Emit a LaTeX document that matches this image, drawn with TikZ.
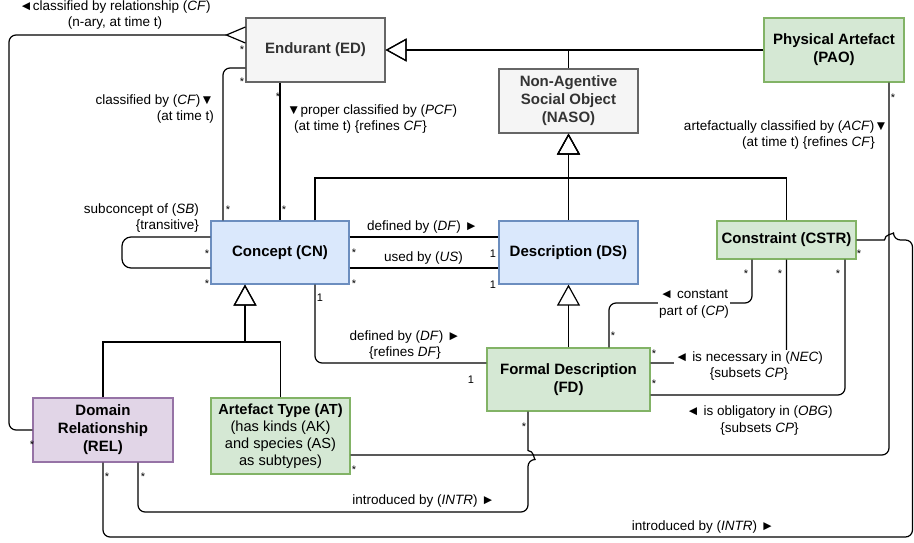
\documentclass[tikz,border=0pt]{standalone}
\usepackage{fontspec}
\setmainfont{Liberation Sans}
\usetikzlibrary{arrows.meta}
\definecolor{gfill}{HTML}{F5F5F5}
\definecolor{gline}{HTML}{666666}
\definecolor{gtext}{HTML}{333333}
\definecolor{bfill}{HTML}{DAE8FC}
\definecolor{bline}{HTML}{6C8EBF}
\definecolor{grfill}{HTML}{D5E8D4}
\definecolor{grline}{HTML}{82B366}
\definecolor{pfill}{HTML}{E1D5E7}
\definecolor{pline}{HTML}{9673A6}
\begin{document}
\begin{tikzpicture}[x=1pt,y=-1pt,
  box/.style={draw, line width=1.2pt, inner sep=2pt, align=center, font=\fontsize{15}{18}\selectfont\bfseries},
  graybox/.style={fill=gfill, draw=gline, text=gtext},
  bluebox/.style={fill=bfill, draw=bline},
  greenbox/.style={fill=grfill, draw=grline},
  purplebox/.style={fill=pfill, draw=pline},
  gen/.style={draw, line width=1.2pt, -{Triangle[open,length=21pt,width=23pt]}},
  assoc/.style={draw, line width=1.2pt, rounded corners=7pt},
  lbl/.style={font=\fontsize{13.5}{16.5}\selectfont, inner sep=1pt, align=center},
  mult/.style={font=\fontsize{11}{11}\selectfont, inner sep=0pt}]
\useasboundingbox (0,0) rectangle (914,542);

% nodes
\node[box,graybox,minimum width=139pt,minimum height=64pt] (ED) at (315.5,50) {Endurant (ED)};
\node[box,graybox,minimum width=139pt,minimum height=64pt] (NASO) at (568.5,101) {Non-Agentive\\Social Object\\(NASO)};
\node[box,greenbox,minimum width=140pt,minimum height=64pt] (PAO) at (834,50) {Physical Artefact\\(PAO)};
\node[box,bluebox,minimum width=138pt,minimum height=63pt] (CN) at (280,252.5) {Concept (CN)};
\node[box,bluebox,minimum width=139pt,minimum height=63pt] (DS) at (568.5,252.5) {Description (DS)};
\node[box,greenbox,minimum width=139pt,minimum height=38pt] (CSTR) at (786.5,240) {Constraint (CSTR)};
\node[box,greenbox,minimum width=163pt,minimum height=63pt] (FD) at (568.5,379.5) {Formal Description\\(FD)};
\node[box,purplebox,minimum width=140pt,minimum height=64pt] (REL) at (103,430) {Domain\\Relationship\\(REL)};
\node[box,greenbox,minimum width=139pt,minimum height=76pt,font=\fontsize{14.6}{17}\selectfont] (AT) at (280.5,436) {\textbf{Artefact Type (AT)}\\(has kinds (AK)\\and species (AS)\\as subtypes)};

% generalizations
\draw[gen] (PAO.west) -- (ED.east);
\draw[gen] (NASO.north) |- (ED.east);
\coordinate (g1) at (568.5,178);
\draw[gen] ([xshift=35pt]CN.north) |- (g1) -- (NASO.south);
\draw[gen] (DS.north) -- (NASO.south);
\draw[gen] (CSTR.north) |- (g1) -- (NASO.south);
\draw[gen] (FD.north) -- (DS.south);
\coordinate (g2) at (245,342);
\draw[gen] (REL.north) |- (g2) -- ([xshift=-35pt]CN.south);
\draw[gen] (AT.north) |- (g2) -- ([xshift=-35pt]CN.south);

% associations
\draw[assoc] ([xshift=-57pt]CN.north) |- ([yshift=-18pt]ED.west);
\draw[assoc] (CN.north |- ED.south) -- (CN.north);
\draw[assoc] (REL.west) -| (9,35) -- ([xshift=-19pt,yshift=15pt]ED.west);
\draw[line width=1.2pt] ([yshift=23pt]ED.west) -- ([xshift=-19pt,yshift=15pt]ED.west) -- ([yshift=7pt]ED.west);
\draw[assoc, rounded corners=9pt] ([yshift=15.5pt]CN.west) -- (122,237) -- (122,268) -- ([yshift=-15.5pt]CN.west);
\draw[assoc] ([yshift=15.5pt]CN.east) -- ([yshift=15.5pt]DS.west);
\draw[assoc] ([yshift=-15.5pt]CN.east) -- ([yshift=-15.5pt]DS.west);
\draw[assoc] ([xshift=35pt]CN.south) |- ([yshift=16.5pt]FD.west);
\draw[assoc] ([xshift=40.5pt]FD.north) |- (752,303) -- ([xshift=-34.5pt]CSTR.south);
\draw[assoc] ([yshift=16.5pt]FD.east) -| (CSTR.south);
\draw[assoc] ([yshift=-15.5pt]FD.east) -| ([xshift=58.5pt]CSTR.south);
\draw[assoc] ([xshift=55pt]PAO.south) |- ([yshift=-19pt]AT.east);
\draw[assoc] ([xshift=35pt]REL.south) |- (528,512) -- (528,459.5) [sharp corners] .. controls (534,459.5) and (534,450.5) .. (528,450.5) -- ([xshift=-40.5pt]FD.south);
\draw[assoc] (REL.south) |- (912.5,537) -- (912.5,240) -- (893.5,240) [sharp corners] .. controls (893.5,234) and (884.5,234) .. (884.5,240) -- (CSTR.east);

% labels
\node[lbl] (l1) at (115,15) {◄classified by relationship (\textit{CF})\\(n-ary, at time t)};
\node[lbl, anchor=east, align=right] (l2) at (215,109) {classified by (\textit{CF})▼\\(at time t)};
\node[lbl, anchor=west, align=left] (l3) at (286,119) {▼proper classified by (\textit{PCF})\\\hspace*{7pt}(at time t) \{refines \textit{CF}\}};
\node[lbl, anchor=east, align=right] (l4) at (889,135) {artefactually classified by (\textit{ACF})▼\\(at time t) \{refines \textit{CF}\}\hspace*{13pt}};
\node[lbl, anchor=east, align=right] (l5) at (200,218) {subconcept of (\textit{SB})\\\{transitive\}};
\node[lbl] (l6) at (422.5,227) {defined by (\textit{DF}) ►};
\node[lbl] (l7) at (423.5,258) {used by (\textit{US})};
\node[lbl] (l8) at (405,345) {defined by (\textit{DF}) ►\\\{refines \textit{DF}\}};
\node[lbl, fill=white] (l9) at (694,304) {◄ constant\\part of (\textit{CP})};
\node[lbl, fill=white] (l10) at (749,366) {◄ is necessary in (\textit{NEC})\\\{subsets \textit{CP}\}};
\node[lbl] (l11) at (759.5,420.5) {◄ is obligatory in (\textit{OBG})\\\{subsets \textit{CP}\}};
\node[lbl] (l12) at (423.5,501) {introduced by (\textit{INTR}) ►};
\node[lbl] (l13) at (703,527) {introduced by (\textit{INTR}) ►};

% multiplicities
\foreach \p [count=\i] in {(242,50),(242,82),(278,97),(228,210),(284,210),(207,254),(207,284),(354,253),(354,284),(613,336),(746,274),(780,274),(838,274),(859,254),(654,354),(654,384),(524,427),(893,98),(354,470),(32,445),(107,477),(143,477)}
  \node[mult] (s\i) at \p {*};
\node[mult] (o1) at (493,254) {1};
\node[mult] (o2) at (493,285) {1};
\node[mult] (o3) at (320,298) {1};
\node[mult] (o4) at (471,380) {1};
\end{tikzpicture}
\end{document}
